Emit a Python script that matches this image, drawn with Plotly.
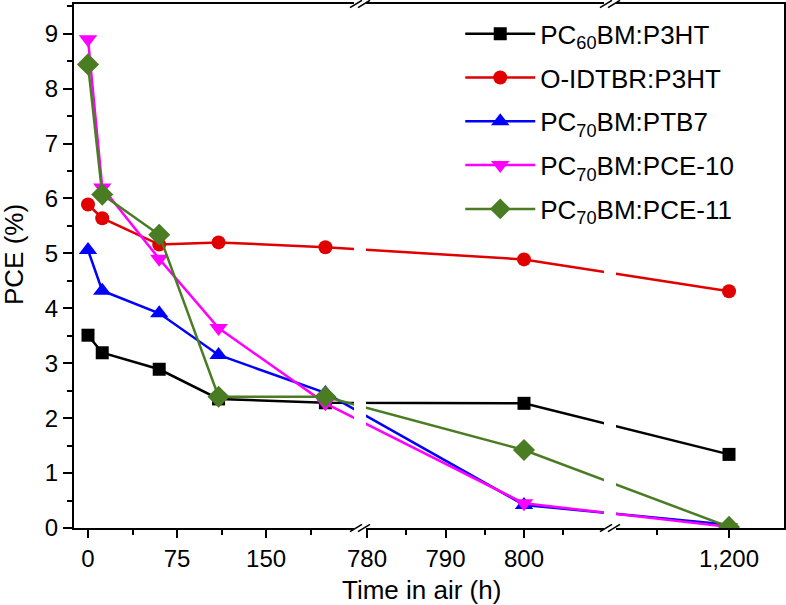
import plotly.graph_objects as go

# ---------------- data (hours, PCE %) ----------------
time_h = [0, 12, 60, 110, 200, 800, 1200]
pc60_p3ht = [3.51, 3.19, 2.89, 2.35, 2.28, 2.27, 1.34]
oidtbr_p3ht = [5.89, 5.64, 5.16, 5.20, 5.11, 4.89, 4.31]
pc70_ptb7 = [5.06, 4.32, 3.91, 3.15, 2.46, 0.42, 0.06]
pc70_pce10 = [8.90, 6.20, 4.90, 3.64, 2.27, 0.45, 0.02]
pc70_pce11 = [8.44, 6.07, 5.34, 2.39, 2.39, 1.42, 0.02]

series_names = ["PC<sub>60</sub>BM:P3HT", "O-IDTBR:P3HT", "PC<sub>70</sub>BM:PTB7",
                "PC<sub>70</sub>BM:PCE-10", "PC<sub>70</sub>BM:PCE-11"]
series_values = [pc60_p3ht, oidtbr_p3ht, pc70_ptb7, pc70_pce10, pc70_pce11]
colors = ["#000000", "#e00000", "#0000ff", "#ff00ff", "#4a7d23"]
symbols = ["square", "circle", "triangle-up", "triangle-down", "diamond"]
msizes = [13, 14, 16, 16, 17]

major_ticks = [0, 75, 150, 780, 790, 800, 1200]
major_labels = ["0", "75", "150", "780", "790", "800", "1,200"]
minor_ticks = [37.5, 112.5, 187.5, 785, 795, 805, 1150]

# ---------------- broken x scale ----------------
# (hours_lo, hours_hi, anchor_hours, anchor_axis, axis units per hour)
SEGMENTS = [(-20, 235, 0, 88, 1.187),
            (775, 815, 780, 367, 7.85),
            (1100, 1260, 1200, 729, 1.44)]
BREAKS = [360, 610]   # axis positions of the breaks
X_RANGE = [74, 784]


def to_axis(h):
    for lo, hi, ah, ad, s in SEGMENTS:
        if lo <= h <= hi:
            return ad + s * (h - ah)
    raise ValueError(h)


xs = [to_axis(t) for t in time_h]

fig = go.Figure()
for i, (name, vals) in enumerate(zip(series_names, series_values)):
    fig.add_trace(go.Scatter(
        x=xs, y=vals, name=name, mode="lines+markers",
        legendgroup=f"g{i}",
        line=dict(color=colors[i], width=2.5),
        marker=dict(symbol=symbols[i], size=msizes[i], color=colors[i],
                    line=dict(width=0)),
    ))

shapes = []
for b in BREAKS:
    # gap in data lines and axis lines
    shapes.append(dict(type="rect", xref="x", yref="paper", x0=b - 6, x1=b + 6,
                       y0=-0.012, y1=1.012, fillcolor="white",
                       line=dict(width=0), layer="above"))
    for yp in (0, 1):
        for off in (-4, 4):
            shapes.append(dict(type="line", xref="x", yref="paper",
                               x0=b + off - 6, x1=b + off + 6,
                               y0=yp - 0.007, y1=yp + 0.007,
                               line=dict(color="black", width=1.6),
                               layer="above"))

font_family = "Liberation Sans, Arial, sans-serif"

fig.update_layout(
    width=786, height=605,
    margin=dict(l=74, r=2, t=4, b=77),
    paper_bgcolor="white", plot_bgcolor="white",
    font=dict(family=font_family, size=24, color="black"),
    showlegend=True,
    legend=dict(x=0.544, y=0.988, xanchor="left", yanchor="top",
                bgcolor="rgba(0,0,0,0)", borderwidth=0,
                traceorder="grouped", tracegroupgap=7, itemwidth=70,
                font=dict(size=26)),
    xaxis=dict(range=X_RANGE, showgrid=False, zeroline=False, automargin=False,
               showline=True, linecolor="black", linewidth=2, mirror=True,
               ticks="outside", ticklen=8, tickwidth=2, tickcolor="black",
               tickvals=[to_axis(t) for t in major_ticks], ticktext=major_labels,
               minor=dict(tickvals=[to_axis(t) for t in minor_ticks],
                          ticks="outside", ticklen=5, tickwidth=2,
                          tickcolor="black", showgrid=False),
               tickfont=dict(size=24)),
    yaxis=dict(range=[0, 9.54], showgrid=False, zeroline=False, automargin=False,
               showline=True, linecolor="black", linewidth=2, mirror=True,
               ticks="outside", ticklen=9, tickwidth=2, tickcolor="black",
               dtick=1, tick0=0,
               minor=dict(dtick=0.5, ticks="outside", ticklen=5, tickwidth=2,
                          tickcolor="black", showgrid=False),
               tickfont=dict(size=24)),
    shapes=shapes,
    annotations=[
        dict(text="Time in air (h)", xref="paper", yref="paper",
             x=0.489, y=-0.118, showarrow=False, font=dict(size=26),
             xanchor="center", yanchor="middle"),
        dict(text="PCE (%)", xref="paper", yref="paper",
             x=-0.0845, y=0.521, showarrow=False, font=dict(size=26),
             textangle=-90, xanchor="center", yanchor="middle"),
    ],
)

fig.write_html("out.html", config={"displayModeBar": False},
               post_script="document.body.style.margin='0';document.body.style.overflow='hidden';")
